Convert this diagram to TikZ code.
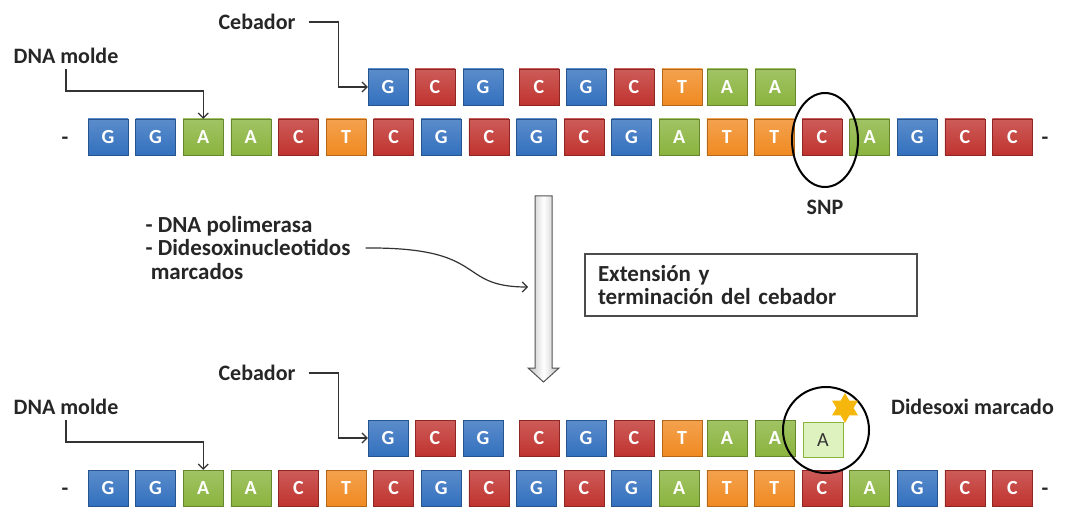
\documentclass[tikz,border=0pt]{standalone}
\usepackage{fontspec}
\setmainfont{Carlito}
\usetikzlibrary{arrows.meta,shapes.geometric}
\definecolor{nucG}{HTML}{3270BE}
\definecolor{nucC}{HTML}{C0332F}
\definecolor{nucA}{HTML}{8AB43E}
\definecolor{nucT}{HTML}{F08A22}
\definecolor{nucnew}{HTML}{DDF2BE}
\definecolor{marca}{HTML}{F6B70C}
\tikzset{
  nuc/.style={draw=nuc#1!75!black,top color=nuc#1!80!white,bottom color=nuc#1,
    minimum width=40pt,minimum height=36pt,inner sep=0pt,text=white,
    font=\fontsize{20}{20}\selectfont\bfseries},
  nuc new/.style={draw=nucA,fill=nucnew,minimum width=40pt,minimum height=35pt,
    inner sep=0pt,text=black!80,font=\fontsize{20}{20}\selectfont},
  lbl/.style={font=\fontsize{22}{23}\selectfont\bfseries,text=black!85,inner sep=1pt},
  pointer/.style={draw=black!80,line width=1.2pt,-{Straight Barb[length=5pt,width=10pt]}},
  ring/.style={draw=black,line width=2pt,inner sep=0pt},
  big arrow/.style={draw=gray!65!black,line width=1pt,left color=gray!50,
    right color=gray!50,middle color=white}
}
\begin{document}
\begin{tikzpicture}[x=1pt,y=-1pt]
  \useasboundingbox (0,0) rectangle (1067,510);
  % molde y cebador (arriba)
  \foreach \l [count=\i from 0] in {G,G,A,A,C,T,C,G,C,G,C,G,A,T,T,C,A,G,C,C}
    \node[nuc=\l] (t\i) at ({108+47.6*\i},137) {\l};
  \foreach \cx/\l [count=\i] in {388/G,435/C,483/G,539/C,586/G,634/C,682/T,727/A,775/A}
    \node[nuc=\l] (p\i) at (\cx,87) {\l};
  \node[lbl] (tl) at (65,141) {-};
  \node[lbl] (tr) at (1045,141) {-};
  \node[lbl] (dna1) at (66,56) {DNA molde};
  \node[lbl] (ceb1) at (257,22) {Cebador};
  \draw[pointer] ([yshift=-4pt]dna1.south) -- ++(0,22) -| (t2.north);
  \draw[pointer] ([xshift=12pt]ceb1.east) -- ++(30,0) |- (p1.west);
  \node[ring,ellipse,minimum width=66pt,minimum height=94pt] (snp) at (825,140) {};
  \node[lbl] (snplbl) at (825,207) {SNP};
  % paso intermedio
  \draw[big arrow] (535,196) -- (552,196) -- (552,368) -- (559,368) -- (543.5,382)
    -- (528,368) -- (535,368) -- cycle;
  \coordinate (flecha) at (528,287);
  \node[lbl,align=left,font=\fontsize{23}{23.5}\selectfont\bfseries] (mix) at (248,248)
    {- DNA polimerasa\\- Didesoxinucleotidos\\\ marcados};
  \draw[draw=black!80,line width=1.2pt,-{Straight Barb[length=5pt,width=10pt]}]
    ([xshift=14pt]mix.east) .. controls (490,247) and (455,287) .. (flecha);
  \node[lbl,draw=black!70,line width=1.2pt,text width=306pt,inner xsep=13pt,
    minimum height=62pt,align=left,font=\fontsize{23}{23}\selectfont\bfseries] (ext) at (751,285)
    {Extensión y\\terminación del cebador};
  % molde y cebador (abajo)
  \foreach \l [count=\i from 0] in {G,G,A,A,C,T,C,G,C,G,C,G,A,T,T,C,A,G,C,C}
    \node[nuc=\l] (b\i) at ({108+47.6*\i},488) {\l};
  \foreach \cx/\l [count=\i] in {388/G,435/C,483/G,539/C,586/G,634/C,682/T,727/A,775/A}
    \node[nuc=\l] (q\i) at (\cx,438) {\l};
  \node[nuc new] (q10) at (823,440) {A};
  \node[lbl] (bl) at (65,492) {-};
  \node[lbl] (br) at (1045,492) {-};
  \node[lbl] (dna2) at (66,407) {DNA molde};
  \node[lbl] (ceb2) at (257,373) {Cebador};
  \draw[pointer] ([yshift=-4pt]dna2.south) -- ++(0,22) -| (b2.north);
  \draw[pointer] ([xshift=12pt]ceb2.east) -- ++(30,0) |- (q1.west);
  \node[ring,circle,minimum size=86pt] (ddn) at (826,430) {};
  \node[star,star points=6,star point ratio=1.75,fill=marca,minimum size=30pt,
    inner sep=0pt] (estrella) at (845,408) {};
  \node[lbl,anchor=west] (ddlbl) at (890,407) {Didesoxi marcado};
\end{tikzpicture}
\end{document}
